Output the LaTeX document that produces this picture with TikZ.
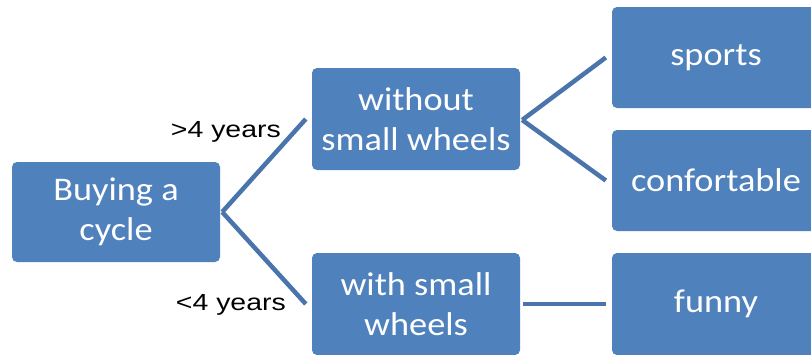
\documentclass[tikz,border=0pt]{standalone}
\usepackage{fontspec}
\newfontfamily\boxfont[FakeStretch=1.1]{Carlito}
\newfontfamily\labelfont[FakeStretch=1.22]{Liberation Sans}
\definecolor{boxblue}{HTML}{4F81BD}
\definecolor{linkblue}{HTML}{4A74AC}
\tikzset{
  choice/.style={rectangle, rounded corners=5pt, fill=boxblue, text=white,
    minimum width=208pt, inner sep=0pt, align=center,
    font=\boxfont\fontsize{33}{39.5}\selectfont},
  link/.style={draw=linkblue, line width=4.5pt},
  cond/.style={font=\labelfont\fontsize{23.3}{27}\selectfont, inner sep=0pt}
}
\begin{document}
\begin{tikzpicture}[x=1pt, y=-1pt]
\useasboundingbox (0,0) rectangle (811,354);
\clip (0,0) rectangle (811,354);
\fill[white] (0,0) rectangle (811,354);
% boxes
\node[choice, minimum height=100pt] (buy) at (116,212) {Buying a\\cycle};
\node[choice, minimum height=102pt] (without) at (416,119) {without\\small wheels};
\node[choice, minimum height=102pt] (with) at (416,304) {with small\\wheels};
\node[choice, minimum height=101pt] (sports) at (716,57.5) {sports};
\node[choice, minimum height=101pt] (conf) at (716,180.5) {confortable};
\node[choice, minimum height=102pt] (funny) at (716,304) {funny};
% branches
\draw[link] ([xshift=2pt]buy.east) -- ([xshift=-6pt]without.west);
\draw[link] ([xshift=2pt]buy.east) -- ([xshift=-6pt]with.west);
\draw[link] ([xshift=2pt,yshift=-1pt]without.east) -- ([xshift=-6pt]sports.west);
\draw[link] ([xshift=2pt,yshift=-1pt]without.east) -- ([xshift=-6pt]conf.west);
\draw[link] ([xshift=3pt]with.east) -- ([xshift=-6pt]funny.west);
% conditions
\node[cond, anchor=base east] (older) at (281,137) {>4 years};
\node[cond, anchor=base east] (younger) at (286,310) {<4 years};
\end{tikzpicture}
\end{document}
